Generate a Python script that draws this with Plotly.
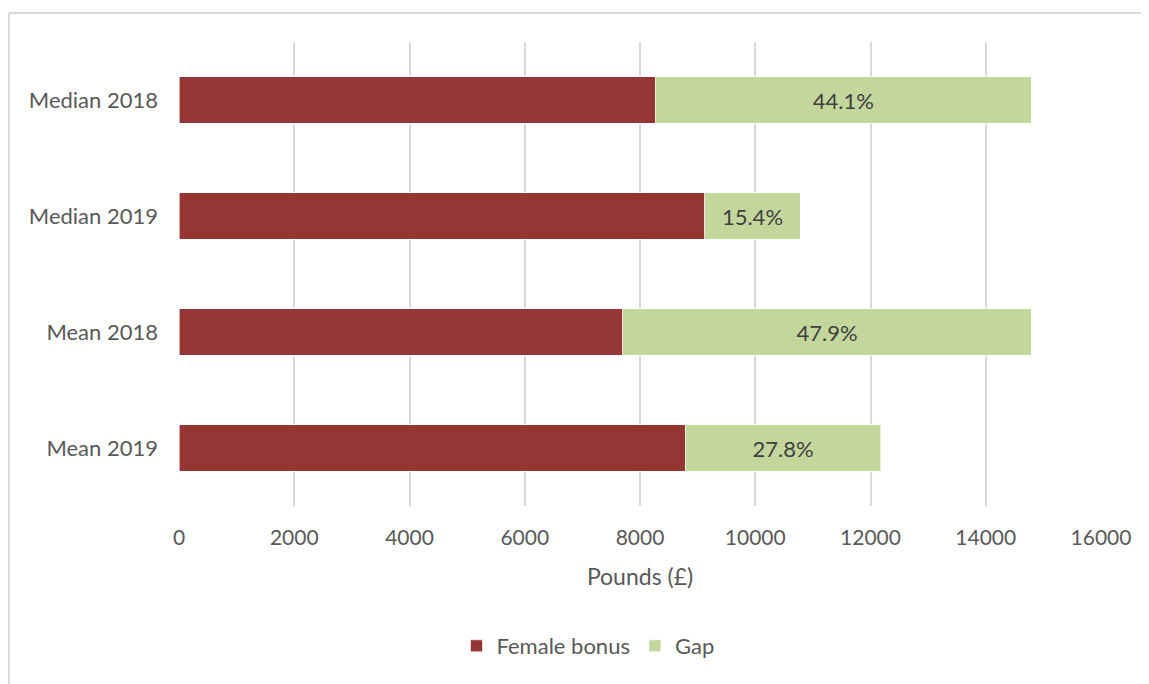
import plotly.graph_objects as go

categories = ["Median 2018", "Median 2019", "Mean 2018", "Mean 2019"]
female_bonus = [8268, 9121, 7702, 8786]
gap = [6522, 1661, 7087, 3390]
gap_labels = ["44.1%", "15.4%", "47.9%", "27.8%"]

FONT = "Lato, 'Open Sans', sans-serif"
OFF = 8  # page body margin
W, H = 1149 - OFF, 684 - OFF
ML, MR, MT, MB = 179 - OFF, 48, 42 - OFF, 178
PW, PH = W - ML - MR, H - MT - MB

fig = go.Figure()
fig.add_trace(go.Bar(
    y=categories, x=female_bonus, orientation="h", name="Female bonus",
    marker=dict(color="#943634", line=dict(color="rgba(255,255,255,0.6)", width=1)),
    hoverinfo="x+y",
))
fig.add_trace(go.Bar(
    y=categories, x=gap, orientation="h", name="Gap",
    marker=dict(color="#C3D69B", line=dict(color="rgba(255,255,255,0.6)", width=1)),
    text=gap_labels, textposition="inside", insidetextanchor="middle",
    textfont=dict(size=22, color="#404040", family=FONT),
    hoverinfo="x+y",
))

def px_x(p):
    return (p - OFF - ML) / PW

def px_y(p):
    return (H - MB - (p - OFF)) / PH

fig.update_layout(
    width=W, height=H,
    margin=dict(l=ML, r=MR, t=MT, b=MB),
    barmode="stack", bargap=0.6,
    plot_bgcolor="white", paper_bgcolor="white",
    font=dict(family=FONT, color="#595959", size=21),
    xaxis=dict(
        range=[0, 16000], dtick=2000, tickformat="d",
        showgrid=True, gridcolor="#D9D9D9", gridwidth=1.5,
        zeroline=False, showline=False, ticks="", ticklabelstandoff=17,
        tickfont=dict(size=21, color="#595959"),
        title=dict(text="Pounds (£)", font=dict(size=23, color="#595959"), standoff=20),
    ),
    yaxis=dict(
        autorange="reversed", showgrid=False, showline=False, ticks="",
        ticklabelstandoff=20,
        tickfont=dict(size=22, color="#595959"),
    ),
    legend=dict(
        orientation="h", x=px_x(588), xanchor="center", y=px_y(646), yanchor="middle",
        font=dict(size=22, color="#595959"), traceorder="normal",
        itemwidth=30,
    ),
    showlegend=True,
    uniformtext=dict(mode="show", minsize=10),
    shapes=[
        dict(type="line", xref="paper", yref="paper", x0=px_x(9), x1=px_x(1160),
             y0=px_y(13), y1=px_y(13), line=dict(color="#D9D9D9", width=2)),
        dict(type="line", xref="paper", yref="paper", x0=px_x(9), x1=px_x(9),
             y0=px_y(13), y1=px_y(700), line=dict(color="#D9D9D9", width=2)),
    ],
)

fig.write_html("out.html")
